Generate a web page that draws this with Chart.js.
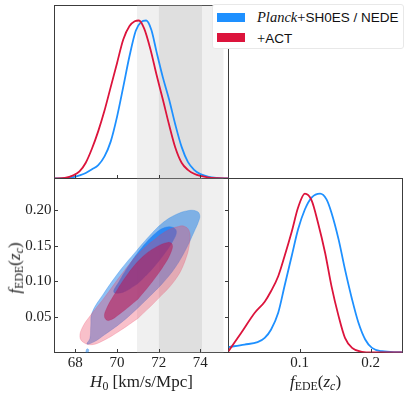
<!DOCTYPE html>
<html>
<head>
<meta charset="utf-8">
<script src="https://cdn.jsdelivr.net/npm/chart.js@4.4.1/dist/chart.umd.min.js"></script>
<style>
html,body{margin:0;padding:0;background:#fff;}
#wrap{position:relative;width:407px;height:399px;overflow:hidden;background:#fff;}
#wrap canvas{position:absolute;left:0;top:0;}
.t{position:absolute;font-family:'Liberation Serif','DejaVu Serif',serif;color:#222;white-space:nowrap;transform:translate(-50%,-50%);font-size:17px;line-height:1;}
.t sub{font-size:70%;vertical-align:-0.28em;font-style:normal;}
.rot{transform:translate(-50%,-50%) rotate(-90deg);}
#legend{position:absolute;left:212px;top:4px;width:192px;height:45px;background:#fff;border:1px solid #e8e8e8;border-radius:3px;box-sizing:border-box;}
.patch{position:absolute;left:4px;width:28px;height:9px;}
.lt{position:absolute;left:44px;font-family:'Liberation Sans','DejaVu Sans',sans-serif;font-size:13.5px;color:#111;white-space:nowrap;line-height:1;transform:translateY(-50%);}
.lt i{font-family:'Liberation Serif',serif;font-size:14.5px;}
.lt .pl{font-family:'Liberation Serif',serif;font-size:14.5px;}
</style>
</head>
<body>
<div id="wrap">
<canvas id="cTL" width="407" height="399"></canvas>
<canvas id="cBL" width="407" height="399"></canvas>
<canvas id="cBR" width="407" height="399"></canvas>
<div class="t" style="left:141.5px;top:383px;"><i>H</i><sub>0</sub> [km/s/Mpc]</div>
<div class="t" style="left:315.5px;top:383px;"><i>f</i><sub>EDE</sub>(<i>z</i><sub><i>c</i></sub>)</div>
<div class="t rot" style="left:16px;top:268px;"><i>f</i><sub>EDE</sub>(<i>z</i><sub><i>c</i></sub>)</div>
<div id="legend">
  <div class="patch" style="top:7.5px;background:#1E90FF;"></div>
  <div class="lt" style="top:12px;"><i>Planck</i><span class="pl">+</span>SH0ES / NEDE</div>
  <div class="patch" style="top:27.5px;background:#DC143C;"></div>
  <div class="lt" style="top:32.5px;"><span class="pl">+</span>ACT</div>
</div>
</div>
<script>
// ---------------- data ----------------
const seriesNames = ['Planck+SH0ES / NEDE', '+ACT'];
const h0Ticks = [68, 70, 72, 74];
const h0TickLabels = ['68', '70', '72', '74'];
const fedeTicks = [0.05, 0.10, 0.15, 0.20];
const fedeTickLabels = ['0.05', '0.10', '0.15', '0.20'];
const fede1DTicks = [0.1, 0.2];
const fede1DTickLabels = ['0.1', '0.2'];
const h0Range = [67.0, 75.35];
const fedeRange = [0.0, 0.245];
const probRange = [0, 1.095];
const shoes1sigma = [72.0, 74.08];
const shoes2sigma = [70.96, 75.12];

// 1D H0 marginals
const h0GridRed  = [67.0, 67.5, 67.9, 68.2, 68.5, 68.8, 69.1, 69.4, 69.7, 70.0, 70.3, 70.6, 70.85, 71.05, 71.3, 71.6, 71.9, 72.2, 72.5, 72.8, 73.1, 73.4, 73.7, 74.0, 74.4, 74.8, 75.35];
const pH0Red     = [0, 0.004, 0.02, 0.045, 0.1, 0.19, 0.3, 0.43, 0.58, 0.73, 0.88, 0.965, 0.995, 1.0, 0.95, 0.82, 0.655, 0.5, 0.34, 0.195, 0.1, 0.055, 0.03, 0.016, 0.006, 0.002, 0];
const h0GridBlue = [67.0, 67.5, 67.9, 68.2, 68.5, 68.8, 69.1, 69.4, 69.7, 70.0, 70.3, 70.6, 70.9, 71.15, 71.4, 71.65, 71.9, 72.2, 72.5, 72.8, 73.1, 73.4, 73.7, 74.0, 74.4, 74.8, 75.35];
const pH0Blue    = [0, 0.002, 0.008, 0.02, 0.035, 0.058, 0.085, 0.14, 0.235, 0.39, 0.58, 0.775, 0.935, 0.99, 1.0, 0.94, 0.8, 0.64, 0.5, 0.34, 0.2, 0.105, 0.055, 0.028, 0.011, 0.004, 0];

// 1D fEDE marginals
const fedeGridRed = [0.0, 0.018, 0.037, 0.051, 0.060, 0.070, 0.079, 0.089, 0.098, 0.1075, 0.117, 0.126, 0.136, 0.145, 0.155, 0.164, 0.174, 0.188, 0.202, 0.245];
const pFedeRed    = [0.008, 0.124, 0.25, 0.32, 0.387, 0.48, 0.607, 0.76, 0.912, 1.0, 0.958, 0.817, 0.628, 0.418, 0.229, 0.092, 0.029, 0.004, 0, 0];
const fedeGridBlue = [0.0, 0.0225, 0.041, 0.051, 0.060, 0.070, 0.079, 0.089, 0.098, 0.1075, 0.117, 0.129, 0.138, 0.145, 0.155, 0.164, 0.174, 0.183, 0.1925, 0.202, 0.216, 0.2396, 0.245];
const pFedeBlue    = [0.034, 0.05, 0.065, 0.092, 0.145, 0.25, 0.42, 0.607, 0.775, 0.90, 0.975, 1.0, 0.964, 0.88, 0.712, 0.523, 0.334, 0.187, 0.082, 0.029, 0.008, 0.002, 0.001];

// 2D contours (H0, fEDE)
const blueOuterH0 = [71.5, 72.2, 72.8, 73.3, 73.7, 73.92, 73.97, 73.85, 73.45, 72.81, 72.17, 71.52, 70.9, 70.16, 69.36, 68.8, 68.74, 68.7, 68.56, 68.9, 69.4, 70.2, 70.9];
const blueOuterF  = [0.077, 0.098, 0.12, 0.145, 0.17, 0.185, 0.193, 0.1986, 0.2, 0.194, 0.182, 0.163, 0.142, 0.116, 0.083, 0.056, 0.038, 0.02, 0.012, 0.015, 0.025, 0.042, 0.06];
const blueIslandH0 = [68.5, 68.6, 68.64, 68.55];
const blueIslandF  = [0.0, 0.0, 0.004, 0.005];
const blueInnerH0 = [71.0, 71.7, 72.3, 72.7, 72.85, 72.7, 72.3, 71.85, 71.2, 70.6, 70.1, 69.85, 70.3];
const blueInnerF  = [0.097, 0.118, 0.14, 0.158, 0.17, 0.176, 0.176, 0.168, 0.148, 0.124, 0.1, 0.085, 0.085];
const redOuterH0  = [71.0, 71.85, 72.81, 73.29, 73.5, 73.45, 73.2, 72.9, 72.49, 72.1, 71.85, 71.5, 70.9, 70.16, 69.36, 68.72, 68.35, 68.22, 68.4, 68.8, 69.36, 70.16];
const redOuterF   = [0.048, 0.072, 0.103, 0.131, 0.158, 0.172, 0.178, 0.177, 0.173, 0.166, 0.16, 0.152, 0.135, 0.108, 0.076, 0.052, 0.036, 0.022, 0.014, 0.011, 0.017, 0.031];
const redInnerH0  = [71.0, 71.7, 72.3, 72.6, 72.65, 72.45, 71.85, 71.2, 70.5, 69.9, 69.5, 69.4, 69.6, 70.16];
const redInnerF   = [0.075, 0.1, 0.125, 0.142, 0.152, 0.155, 0.148, 0.134, 0.11, 0.083, 0.062, 0.05, 0.045, 0.055];

// ---------------- styling / layout ----------------
const W = 407, H = 399;
const boxes = {
  tl: {l: 54.5, t: 5.5, r: 228.5, b: 178.5},
  bl: {l: 54.5, t: 178.5, r: 228.5, b: 352.5},
  br: {l: 228.5, t: 178.5, r: 402.5, b: 352.5}
};
const BLUE = '#1E90FF', RED = '#DC143C';
const AXIS = '#3c3c3c';
const tickFont = {family: "'Liberation Serif', 'DejaVu Serif', serif", size: 15};

function pts(xs, ys) { return xs.map((x, i) => ({x: x, y: ys[i]})); }
function loop(xs, ys) { const p = pts(xs, ys); p.push({x: xs[0], y: ys[0]}); return p; }

const inTicks = {
  id: 'inTicks',
  afterDraw(chart, args, opts) {
    const ctx = chart.ctx, a = chart.chartArea, L = 3.5;
    ctx.save();
    ctx.strokeStyle = AXIS; ctx.lineWidth = 1;
    ctx.beginPath();
    const sx = chart.scales.x, sy = chart.scales.y;
    (opts.x || []).forEach(side => {
      sx.ticks.forEach(t => {
        const p = Math.round(sx.getPixelForValue(t.value)) + 0.5;
        if (side === 'bottom') { ctx.moveTo(p, a.bottom); ctx.lineTo(p, a.bottom - L); }
        else { ctx.moveTo(p, a.top); ctx.lineTo(p, a.top + L); }
      });
    });
    (opts.y || []).forEach(side => {
      sy.ticks.forEach(t => {
        const p = Math.round(sy.getPixelForValue(t.value)) + 0.5;
        if (side === 'left') { ctx.moveTo(a.left, p); ctx.lineTo(a.left + L, p); }
        else { ctx.moveTo(a.right, p); ctx.lineTo(a.right - L, p); }
      });
    });
    ctx.stroke();
    ctx.restore();
  }
};

function axis(pos, range, tickVals, tickLabels, showLabels, fitFn) {
  return {
    type: 'linear', position: pos, min: range[0], max: range[1],
    afterBuildTicks(s) { s.ticks = tickVals.map(v => ({value: v})); },
    ticks: {
      display: showLabels, font: tickFont, color: '#222', padding: pos === 'left' ? 3 : 2,
      autoSkip: false, maxRotation: 0,
      callback(v, i) { return tickLabels[i]; }
    },
    grid: {display: true, drawOnChartArea: false, drawTicks: false},
    border: {display: true, color: AXIS, width: 1},
    afterFit: fitFn
  };
}
function frameAxis(pos, fitFn) {
  return {
    type: 'linear', position: pos, min: 0, max: 1,
    ticks: {display: false},
    grid: {display: true, drawOnChartArea: false, drawTicks: false},
    border: {display: true, color: AXIS, width: 1},
    afterFit: fitFn
  };
}

function makeChart(id, box, xs, ys, datasets, tickSides) {
  return new Chart(document.getElementById(id), {
    type: 'scatter',
    data: {datasets: datasets},
    options: {
      responsive: false, animation: false, devicePixelRatio: 1,
      layout: {padding: 0},
      plugins: {legend: {display: false}, tooltip: {enabled: false}, inTicks: tickSides},
      elements: {point: {radius: 0, hoverRadius: 0}},
      scales: {
        x: axis('bottom', xs.range, xs.ticks, xs.labels, xs.show, s => { s.height = H - box.b; }),
        y: axis('left', ys.range, ys.ticks, ys.labels, ys.show, s => { s.width = box.l; }),
        x2: frameAxis('top', s => { s.height = box.t; }),
        y2: frameAxis('right', s => { s.width = W - box.r; })
      }
    },
    plugins: [inTicks]
  });
}

function band(range, color, order) {
  return {
    type: 'line', data: [{x: range[0], y: 0}, {x: range[1], y: 0}],
    fill: 'end', backgroundColor: color, borderWidth: 0, pointRadius: 0, order: order
  };
}
function curve(xs, ys, color, order) {
  return {
    data: pts(xs, ys), showLine: true, borderColor: color, borderWidth: 1.8,
    cubicInterpolationMode: 'monotone', pointRadius: 0, fill: false, order: order
  };
}
function contour(xs, ys, fillColor, lineColor, order) {
  return {
    data: loop(xs, ys), showLine: true, fill: 'shape', backgroundColor: fillColor,
    borderColor: lineColor, borderWidth: 0.7, tension: 0.4, pointRadius: 0, order: order
  };
}

// Top-left: H0 1D
makeChart('cTL', boxes.tl,
  {range: h0Range, ticks: h0Ticks, labels: h0TickLabels, show: false},
  {range: probRange, ticks: [], labels: [], show: false},
  [
    curve(h0GridRed, pH0Red, RED, 1),
    curve(h0GridBlue, pH0Blue, BLUE, 2),
    band(shoes1sigma, '#dfdfdf', 8),
    band(shoes2sigma, '#f0f0f0', 9)
  ],
  {x: ['bottom'], y: []}
);

// Bottom-left: 2D contours
makeChart('cBL', boxes.bl,
  {range: h0Range, ticks: h0Ticks, labels: h0TickLabels, show: true},
  {range: fedeRange, ticks: fedeTicks, labels: fedeTickLabels, show: true},
  [
    contour(redInnerH0, redInnerF, 'rgba(185,20,80,0.55)', 'rgba(185,20,80,0.35)', 1),
    contour(redOuterH0, redOuterF, 'rgba(235,60,90,0.32)', 'rgba(235,60,90,0.3)', 2),
    contour(blueInnerH0, blueInnerF, 'rgba(30,130,245,0.85)', 'rgba(30,130,245,0.6)', 3),
    contour(blueOuterH0, blueOuterF, 'rgba(30,130,235,0.5)', 'rgba(30,130,235,0.4)', 4),
    contour(blueIslandH0, blueIslandF, 'rgba(30,130,235,0.5)', 'rgba(30,130,235,0.4)', 5),
    band(shoes1sigma, '#dfdfdf', 8),
    band(shoes2sigma, '#f0f0f0', 9)
  ],
  {x: ['bottom'], y: ['left', 'right']}
);

// Bottom-right: fEDE 1D
makeChart('cBR', boxes.br,
  {range: fedeRange, ticks: fede1DTicks, labels: fede1DTickLabels, show: true},
  {range: probRange, ticks: [], labels: [], show: false},
  [
    curve(fedeGridRed, pFedeRed, RED, 1),
    curve(fedeGridBlue, pFedeBlue, BLUE, 2)
  ],
  {x: ['bottom'], y: []}
);
</script>
</body>
</html>
